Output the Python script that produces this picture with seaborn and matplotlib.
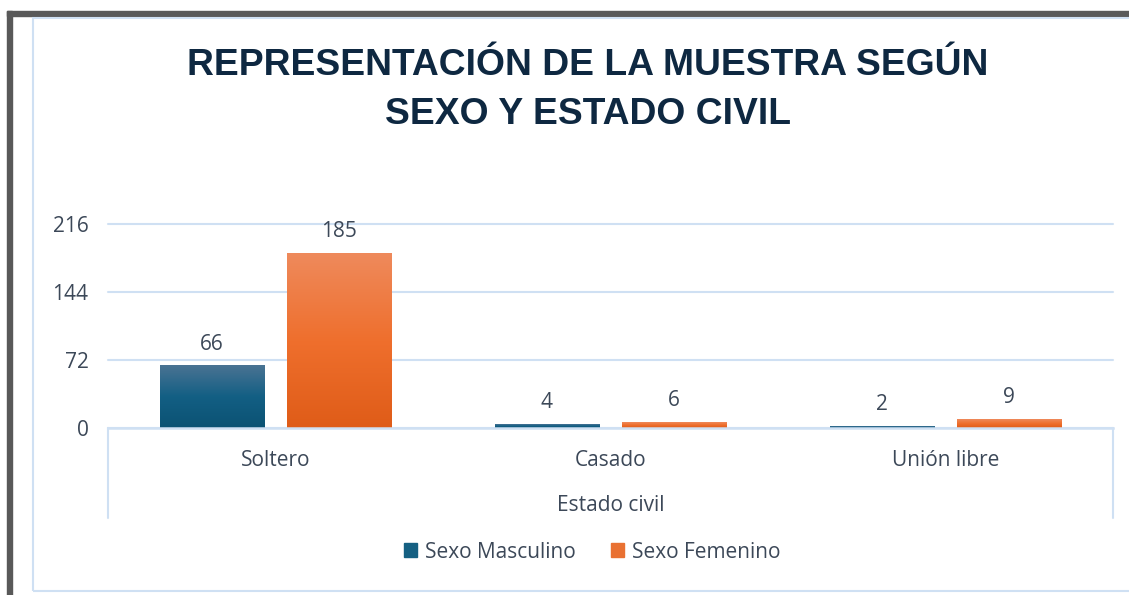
import numpy as np
import pandas as pd
import matplotlib
matplotlib.use("Agg")
import matplotlib.pyplot as plt
import seaborn as sns
from matplotlib.colors import LinearSegmentedColormap
from matplotlib.patches import Rectangle, Patch

# datos
categorias = ["Soltero", "Casado", "Unión libre"]
series = ["Sexo Masculino", "Sexo Femenino"]
masculino = [66, 4, 2]
femenino = [185, 6, 9]
ticks_y = [0, 72, 144, 216]

W, H = 1129, 595
azul = "#156082"
naranja = "#e97132"
grad_azul = ["#0b5273", "#135f84", "#4a7393"]
grad_naranja = ["#df5c18", "#ef6f2d", "#ee8a5c"]
texto = "#3c4858"
rejilla = "#cfe0f3"
fs = 15

sns.set_theme(style="white")
plt.rcParams["font.family"] = ["Open Sans", "DejaVu Sans"]

df = pd.DataFrame({
    "Estado civil": categorias * 2,
    "Sexo": [series[0]] * 3 + [series[1]] * 3,
    "Cantidad": masculino + femenino,
})

fig = plt.figure(figsize=(W / 100, H / 100), dpi=100)
ax = fig.add_axes([108 / W, 1 - 428 / H, 1005 / W, 204 / H])

sns.barplot(data=df, x="Estado civil", y="Cantidad", hue="Sexo",
            palette=[azul, naranja], width=0.76, gap=0.18, ax=ax, legend=False)

# relleno degradado en cada barra
for cont, cols in zip(ax.containers, [grad_azul, grad_naranja]):
    cmap = LinearSegmentedColormap.from_list("g", cols)
    for bar in cont:
        x, y = bar.get_x(), bar.get_y()
        w, h = bar.get_width(), bar.get_height()
        grad = np.linspace(1, 0, 256).reshape(-1, 1)
        ax.imshow(grad, extent=(x, x + w, y, y + h), aspect="auto",
                  cmap=cmap, zorder=2)
        bar.set_facecolor("none")
        bar.set_edgecolor("none")
    ax.bar_label(cont, padding=8, fontsize=fs, color=texto)

ax.set_xlim(-0.5, 2.5)
ax.set_ylim(0, 216)
ax.set_yticks(ticks_y)
ax.yaxis.grid(True, color=rejilla, lw=1.5)
for ln in ax.get_ygridlines():
    ln.set_clip_on(False)
ax.set_axisbelow(True)
for s in ["top", "left", "right"]:
    ax.spines[s].set_visible(False)
ax.spines["bottom"].set_color(rejilla)
ax.spines["bottom"].set_linewidth(1.8)
ax.spines["bottom"].set_zorder(3)

ax.tick_params(axis="y", length=0, pad=14, labelsize=fs, labelcolor=texto)
ax.tick_params(axis="x", length=0, pad=16, labelsize=fs, labelcolor=texto)
ax.set_ylabel("")
ax.set_xlabel("Estado civil", fontsize=fs, color=texto)
ax.xaxis.set_label_coords(0.5, -0.328)

# lineas del eje de categorias
for xp in [0, 1]:
    ax.plot([xp, xp], [0, -90 / 204], transform=ax.transAxes,
            clip_on=False, color=rejilla, lw=1.5)

fig.text(588 / W, 1 - 90 / H,
         "REPRESENTACIÓN DE LA MUESTRA SEGÚN\nSEXO Y ESTADO CIVIL",
         ha="center", va="center", fontsize=26.8, fontweight="bold",
         color="#0e2841", family="Liberation Sans", linespacing=1.52)

handles = [Patch(color=azul), Patch(color=naranja)]
fig.legend(handles, series, loc="center", bbox_to_anchor=(592 / W, 1 - 552 / H),
           ncol=2, frameon=False, fontsize=fs, labelcolor=texto,
           handlelength=0.65, handleheight=0.65, handletextpad=0.35,
           columnspacing=1.7)

# marco de la captura y borde del grafico
fig.add_artist(Rectangle((7 / W, 0), 5 / W, (H - 11) / H,
                         transform=fig.transFigure, color="#595959"))
fig.add_artist(Rectangle((7 / W, 1 - 16 / H), 1, 5 / H,
                         transform=fig.transFigure, color="#595959"))
fig.add_artist(Rectangle((33 / W, 1 - 591 / H), 1.0, (591 - 18) / H,
                         transform=fig.transFigure, fill=False,
                         edgecolor=rejilla, lw=1.5))

plt.savefig("out.png", dpi=100)
